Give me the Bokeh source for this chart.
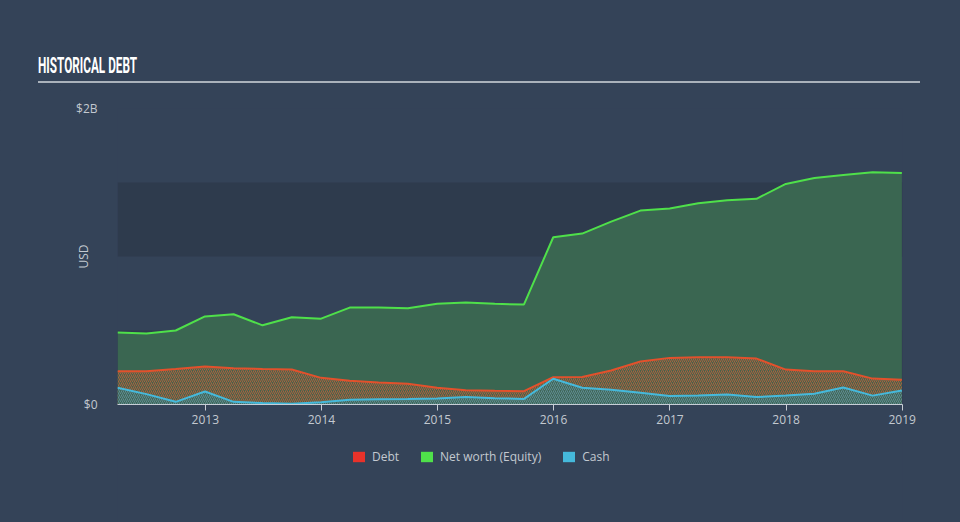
from datetime import datetime
from bokeh.plotting import figure
from bokeh.layouts import column
from bokeh.models import (ColumnDataSource, BoxAnnotation, FixedTicker, Div,
                          DatetimeTickFormatter, Range1d, Legend, LegendItem)
from bokeh.embed import file_html
from bokeh.resources import INLINE

# ---------------- data (USD billions, quarterly) ----------------
dates = ["2012-03-31", "2012-06-30", "2012-09-30", "2012-12-31",
         "2013-03-31", "2013-06-30", "2013-09-30", "2013-12-31",
         "2014-03-31", "2014-06-30", "2014-09-30", "2014-12-31",
         "2015-03-31", "2015-06-30", "2015-09-30", "2015-12-31",
         "2016-03-31", "2016-06-30", "2016-09-30", "2016-12-31",
         "2017-03-31", "2017-06-30", "2017-09-30", "2017-12-31",
         "2018-03-31", "2018-06-30", "2018-09-30", "2018-12-31"]
equity = [0.486, 0.48, 0.50, 0.595, 0.61, 0.535, 0.59, 0.58,
          0.655, 0.655, 0.65, 0.68, 0.69, 0.68, 0.676, 1.13,
          1.155, 1.236, 1.31, 1.325, 1.36, 1.38, 1.39, 1.49,
          1.53, 1.55, 1.57, 1.565]
debt = [0.225, 0.225, 0.24, 0.257, 0.245, 0.24, 0.236, 0.18,
        0.16, 0.148, 0.14, 0.113, 0.097, 0.093, 0.09, 0.184,
        0.186, 0.23, 0.29, 0.315, 0.32, 0.32, 0.31, 0.236,
        0.225, 0.225, 0.175, 0.167]
cash = [0.113, 0.07, 0.018, 0.088, 0.018, 0.01, 0.005, 0.016,
        0.032, 0.036, 0.037, 0.04, 0.05, 0.042, 0.038, 0.174,
        0.113, 0.10, 0.08, 0.057, 0.06, 0.068, 0.05, 0.06,
        0.072, 0.115, 0.06, 0.095]
year_ticks = [2013, 2014, 2015, 2016, 2017, 2018, 2019]
y_ticks = [0, 2]
y_tick_labels = ["$0", "$2B"]
title_text = "HISTORICAL DEBT"
series_names = ["Debt", "Net worth (Equity)", "Cash"]
series_colors = ["#e8322a", "#4fe04a", "#45b9db"]

# ---------------- styling ----------------
BG = "#344358"
BAND = "#2e3b4d"
TXT = "#c3c9d0"
FONT = "Open Sans"
W = 960

# ---------------- title strip (HTML) ----------------
title_html = (
    '<div style="box-sizing:border-box; margin-left:38px; margin-top:56px; width:882px; '
    'height:27px; padding-bottom:5px; border-bottom:2px solid #aab2bb; line-height:20px; '
    'white-space:nowrap;">'
    '<span style="display:inline-block; transform:scaleX(0.535); transform-origin:0 50%; '
    'font-family:Roboto, sans-serif; font-weight:bold; font-size:22px; color:#ffffff;">'
    + title_text + '</span></div>')
t = Div(text=title_html, width=W, height=90, margin=0,
        styles={"background-color": BG, "overflow": "hidden"})

# ---------------- main chart ----------------
x = [datetime.strptime(d, "%Y-%m-%d") for d in dates]
src = ColumnDataSource(dict(x=x, equity=equity, debt=debt, cash=cash,
                            zero=[0] * len(x)))

p = figure(width=W, height=350, output_backend="svg", toolbar_location=None,
           x_axis_type="datetime",
           x_range=Range1d(x[0], datetime(2019, 1, 2)),
           y_range=Range1d(0, 2),
           min_border_left=117, min_border_right=58,
           min_border_top=18, min_border_bottom=36)
p.background_fill_color = BG
p.border_fill_color = BG
p.outline_line_color = None
p.grid.visible = False

for b, tp in [(0, 0.5), (1.0, 1.5)]:
    p.add_layout(BoxAnnotation(bottom=b, top=tp, fill_color=BAND, fill_alpha=1,
                               line_color=None, level="underlay"))

p.varea(x="x", y1="zero", y2="equity", source=src, fill_color="#3a6651",
        fill_alpha=1)
p.varea(x="x", y1="zero", y2="debt", source=src, fill_color="#545e46",
        fill_alpha=0.5, hatch_pattern="/", hatch_color="#c2623c",
        hatch_alpha=0.8, hatch_scale=4, hatch_weight=1)
p.varea(x="x", y1="zero", y2="cash", source=src, fill_color="#3f6659",
        fill_alpha=1, hatch_pattern="/", hatch_color="#6c9ca8",
        hatch_alpha=0.7, hatch_scale=4, hatch_weight=1)

p.line("x", "equity", source=src, line_color=series_colors[1], line_width=2)
p.line("x", "debt", source=src, line_color="#e2512c", line_width=2)
p.line("x", "cash", source=src, line_color=series_colors[2], line_width=2)

p.xaxis.ticker = FixedTicker(ticks=[datetime(yr, 1, 1).timestamp() * 1000 for yr in year_ticks])
p.xaxis.formatter = DatetimeTickFormatter(years="%Y", months="%Y", days="%Y")
p.xaxis.axis_line_color = "#c8ced6"
p.xaxis.major_tick_line_color = "#c8ced6"
p.xaxis.major_tick_out = 6
p.xaxis.major_tick_in = 0
p.xaxis.minor_tick_line_color = None
p.xaxis.major_label_text_color = TXT
p.xaxis.major_label_text_font = FONT
p.xaxis.major_label_text_font_size = "12px"
p.xaxis.major_label_standoff = 4

p.yaxis.ticker = FixedTicker(ticks=y_ticks)
p.yaxis.major_label_overrides = {tk: lb for tk, lb in zip(y_ticks, y_tick_labels)}
p.yaxis.axis_line_color = None
p.yaxis.major_tick_line_color = None
p.yaxis.minor_tick_line_color = None
p.yaxis.major_label_text_color = TXT
p.yaxis.major_label_text_font = FONT
p.yaxis.major_label_text_font_size = "12px"
p.yaxis.major_label_standoff = 14
p.yaxis.axis_label = "USD"
p.yaxis.axis_label_text_color = TXT
p.yaxis.axis_label_text_font = FONT
p.yaxis.axis_label_text_font_style = "normal"
p.yaxis.axis_label_text_font_size = "12px"
p.yaxis.axis_label_standoff = -19

# ---------------- legend strip ----------------
lg = figure(width=W, height=82, output_backend="svg", toolbar_location=None,
            x_range=Range1d(0, 1), y_range=Range1d(0, 1),
            min_border=0, x_axis_location=None, y_axis_location=None)
lg.background_fill_color = BG
lg.border_fill_color = BG
lg.outline_line_color = None
lg.grid.visible = False
items = []
for name, col in zip(series_names, series_colors):
    # legend swatch only: one quad placed outside the visible range
    r = lg.quad(left=[5], right=[6], top=[6], bottom=[5], fill_color=col, line_color=None)
    items.append(LegendItem(label=name, renderers=[r]))
leg = Legend(items=items, orientation="horizontal", location=(351 - 117, 57),
             background_fill_alpha=0, border_line_color=None,
             label_text_color=TXT, label_text_font=FONT, label_text_font_size="12px",
             glyph_width=15, glyph_height=13, spacing=20, label_standoff=6,
             padding=0, margin=0)
lg.add_layout(leg)

layout = column(t, p, lg, spacing=0, styles={"background-color": BG})
open("out.html", "w").write(file_html(layout, INLINE))
